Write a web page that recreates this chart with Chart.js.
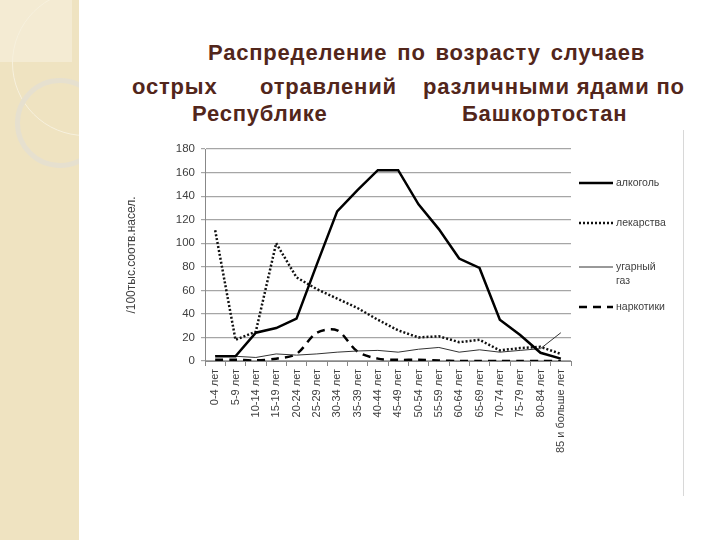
<!DOCTYPE html>
<html>
<head>
<meta charset="utf-8">
<script src="https://cdn.jsdelivr.net/npm/chart.js@4"></script>
<style>
  body { margin: 0; width: 720px; height: 540px; background: #fff; position: relative; overflow: hidden; font-family: "Liberation Sans", Arial, sans-serif; }
  #strip { position: absolute; left: 0; top: 0; width: 79px; height: 540px; background: #efe3c1; overflow: hidden; }
  #strip .sq { position: absolute; left: 0; top: 0; width: 72px; height: 62px; background: #f4ebd3; }
  #strip .c1 { position: absolute; left: 12px; top: -10px; width: 144px; height: 144px; border: 1.5px solid #f7f1de; border-radius: 50%; }
  #strip .c2 { position: absolute; left: 15px; top: 78px; width: 80px; height: 80px; border: 5px solid #e6e0cf; border-radius: 50%; }
  .t { position: absolute; font-weight: bold; font-size: 22px; line-height: 22px; letter-spacing: 0.8px; color: #52261b; white-space: pre; }
  #frame { position: absolute; left: 160px; top: 130px; width: 523px; height: 366px; border-right: 1px solid #d8d8d8; }
  #wrap { position: absolute; left: 100px; top: 130px; width: 600px; height: 380px; }
</style>
</head>
<body>
<div id="strip"><div class="sq"></div><div class="c1"></div><div class="c2"></div></div>
<div class="t" style="left:208px;top:42px;word-spacing:3px">Распределение по возрасту случаев</div>
<div class="t" style="left:132px;top:76px">острых</div>
<div class="t" style="left:260px;top:76px">отравлений</div>
<div class="t" style="left:423px;top:76px">различными ядами по</div>
<div class="t" style="left:192px;top:103px">Республике</div>
<div class="t" style="left:462px;top:103px">Башкортостан</div>
<div id="frame"></div>
<div id="wrap"><canvas id="chart" width="600" height="380"></canvas></div>
<script>
// Возрастные группы
const ageGroups = ['0-4 лет', '5-9 лет', '10-14 лет', '15-19 лет', '20-24 лет', '25-29 лет', '30-34 лет',
    '35-39 лет', '40-44 лет', '45-49 лет', '50-54 лет', '55-59 лет', '60-64 лет', '65-69 лет',
    '70-74 лет', '75-79 лет', '80-84 лет', '85 и больше лет'];

// Значения на 100 тыс. соотв. населения
const alcohol = [4, 4, 24, 28, 36, 82, 127, 145, 162, 162, 133, 112, 87, 79, 35, 22, 7, 2];
const medicines = [111, 18, 25, 100, 71, 61, 53, 45, 35, 26, 20, 21, 16, 18, 9, 11, 12, 6];
const carbonMonoxide = [4.5, 4, 3, 6, 5, 6, 7.5, 8.5, 9, 7.5, 10, 11.5, 7.5, 9.5, 7.5, 9, 10.5, 24];
const narcotics = [1, 1, 0.5, 2, 6, 24, 26, 8, 2, 1, 1, 0.5, 0, 0, 0, 0, 0, 0];

const yTicksMax = 180;
const yTicksStep = 20;
const yTitle = '/100тыс.соотв.насел.';

// Легенда справа (рисуется вручную)
const legendItems = [
    { lines: ['алкоголь'], y: 53 },
    { lines: ['лекарства'], y: 93 },
    { lines: ['угарный', 'газ'], y: 137 },
    { lines: ['наркотики'], y: 177 }
];

const sideLegend = {
    id: 'sideLegend',
    afterDraw(chart) {
        const ctx = chart.ctx;
        ctx.save();
        chart.data.datasets.forEach((ds, i) => {
            const item = legendItems[i];
            ctx.beginPath();
            ctx.strokeStyle = ds.borderColor;
            ctx.lineWidth = ds.borderWidth;
            ctx.setLineDash(ds.borderDash || []);
            ctx.moveTo(479, item.y);
            ctx.lineTo(513, item.y);
            ctx.stroke();
            ctx.setLineDash([]);
            ctx.fillStyle = '#404040';
            ctx.font = '10.5px "Liberation Sans", Arial, sans-serif';
            ctx.textBaseline = 'middle';
            item.lines.forEach((txt, k) => {
                ctx.fillText(txt, 516, item.y + k * 14);
            });
        });
        ctx.restore();
    }
};

const ctx = document.getElementById('chart').getContext('2d');
new Chart(ctx, {
    type: 'line',
    data: {
        labels: ageGroups,
        datasets: [
            { label: 'алкоголь', data: alcohol, borderColor: '#000', borderWidth: 2.5, tension: 0 },
            { label: 'лекарства', data: medicines, borderColor: '#111', borderWidth: 2.5, borderDash: [2, 2], tension: 0 },
            { label: 'угарный газ', data: carbonMonoxide, borderColor: '#333', borderWidth: 1, tension: 0 },
            { label: 'наркотики', data: narcotics, borderColor: '#000', borderWidth: 2.5, borderDash: [8, 6], tension: 0.3 }
        ]
    },
    options: {
        responsive: false,
        animation: false,
        layout: { padding: { left: 20, top: 19, right: 129, bottom: 0 } },
        elements: { point: { radius: 0 }, line: { fill: false } },
        plugins: {
            legend: { display: false },
            tooltip: { enabled: false }
        },
        scales: {
            x: {
                offset: true,
                grid: { drawOnChartArea: false, drawTicks: true, tickLength: 5, color: '#888', offset: true },
                border: { color: '#888' },
                ticks: {
                    maxRotation: 90, minRotation: 90, autoSkip: false,
                    color: '#404040', font: { family: '"Liberation Sans", Arial, sans-serif', size: 11 }
                },
                afterFit(scale) { scale.height = 149; }
            },
            y: {
                min: 0, max: yTicksMax,
                grid: { color: '#a6a6a6', tickLength: 4, lineWidth: 1.2 },
                border: { color: '#888' },
                ticks: {
                    stepSize: yTicksStep, padding: 6,
                    color: '#404040', font: { family: '"Liberation Sans", Arial, sans-serif', size: 11.5 }
                },
                title: {
                    display: true, text: yTitle, color: '#404040',
                    font: { family: '"Liberation Sans", Arial, sans-serif', size: 12 }
                },
                afterFit(scale) { scale.width = 85; }
            }
        }
    },
    plugins: [sideLegend]
});
</script>
</body>
</html>
